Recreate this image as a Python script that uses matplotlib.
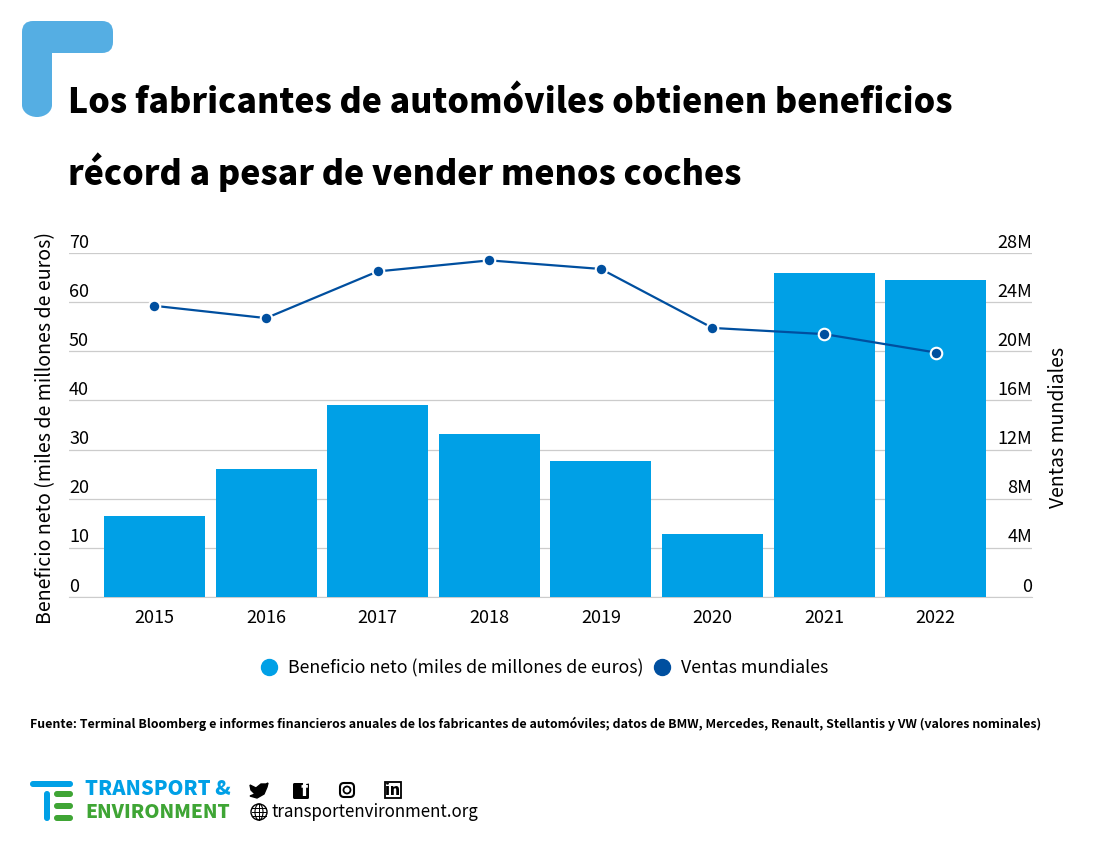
import matplotlib
matplotlib.use("Agg")
import matplotlib.pyplot as plt
from matplotlib.lines import Line2D
from matplotlib.patches import Circle, Ellipse, FancyBboxPatch, Polygon, Rectangle

plt.rcParams['font.family'] = ['Noto Sans CJK JP', 'DejaVu Sans']

years = ['2015', '2016', '2017', '2018', '2019', '2020', '2021', '2022']
beneficio = [16.5, 26, 39, 33.2, 27.7, 12.8, 66, 64.5]
ventas = [23.7, 22.7, 26.5, 27.4, 26.7, 21.9, 21.4, 19.9]
left_ticks = [0, 10, 20, 30, 40, 50, 60, 70]
right_ticks = [0, 4, 8, 12, 16, 20, 24, 28]
right_labels = ['0', '4M', '8M', '12M', '16M', '20M', '24M', '28M']

titulo = ['Los fabricantes de automóviles obtienen beneficios',
          'récord a pesar de vender menos coches']
fuente = ('Fuente: Terminal Bloomberg e informes financieros anuales de los fabricantes '
          'de automóviles; datos de BMW, Mercedes, Renault, Stellantis y VW (valores nominales)')

BLUE = '#00a0e6'
DARK = '#004f9f'
GRID = '#cccccc'
CORNER = '#55aee3'
W, H = 1100, 842

fig = plt.figure(figsize=(W / 100, H / 100), dpi=100, facecolor='white')

# plot area in pixels: x 69-1032, y 253-597
ax = fig.add_axes([69 / W, 1 - 597 / H, (1032 - 69) / W, (597 - 253) / H])
x = list(range(len(years)))
ax.bar(x, beneficio, width=0.905, color=BLUE, zorder=3)
ax.set_xlim(-0.766, 7.863)
ax.set_ylim(0, 70)
ax.set_xticks(x)
ax.set_xticklabels(years, fontsize=13)
ax.set_yticks(left_ticks)
ax.set_yticklabels([])
ax.tick_params(length=0, pad=8.5)
ax.grid(axis='y', color=GRID, lw=0.9, zorder=0)
ax.set_axisbelow(True)
for s in ['top', 'left', 'right']:
    ax.spines[s].set_visible(False)
ax.spines['bottom'].set_color(GRID)
for v in left_ticks:
    ax.annotate(str(v), (0, v), xycoords=('axes fraction', 'data'), xytext=(0, 7.5),
                textcoords='offset points', ha='left', va='center', fontsize=13)

ax2 = ax.twinx()
ax2.set_ylim(0, 28)
ax2.plot(x, ventas, color=DARK, lw=1.6, marker='o', ms=8.3, mfc=DARK, mec='white', mew=1.5, zorder=5)
ax2.set_yticks(right_ticks)
ax2.set_yticklabels([])
ax2.tick_params(length=0)
for s in ax2.spines.values():
    s.set_visible(False)
for v, lab in zip(right_ticks, right_labels):
    ax2.annotate(lab, (1, v), xycoords=('axes fraction', 'data'), xytext=(0, 7.5),
                 textcoords='offset points', ha='right', va='center', fontsize=13)

# everything else is placed in pixel coordinates
ov = fig.add_axes([0, 0, 1, 1], zorder=-1)
ov.set_xlim(0, W)
ov.set_ylim(H, 0)
ov.axis('off')

ov.text(46, 428, 'Beneficio neto (miles de millones de euros)', rotation=90, ha='center', va='center', fontsize=14.1)
ov.text(1058, 427, 'Ventas mundiales', rotation=90, ha='center', va='center', fontsize=14)

ov.text(68, 113, titulo[0], fontsize=24.4, fontweight='black', va='baseline')
ov.text(68, 185, titulo[1], fontsize=24.4, fontweight='black', va='baseline')

# corner shape
ov.add_patch(FancyBboxPatch((22, 21), 91, 32, boxstyle='round,pad=0,rounding_size=11', fc=CORNER, ec='none'))
ov.add_patch(Rectangle((22, 35), 30, 70, fc=CORNER, ec='none'))
ov.add_patch(Ellipse((37, 105), 30, 24, fc=CORNER, ec='none'))

fig.legend(handles=[Line2D([], [], ls='', marker='o', ms=11.5, color=BLUE, label='Beneficio neto (miles de millones de euros)'),
                    Line2D([], [], ls='', marker='o', ms=11.5, color=DARK, label='Ventas mundiales')],
           loc='center', bbox_to_anchor=(544 / W, 1 - 668 / H), ncol=2, frameon=False, fontsize=12.85,
           handlelength=1, handletextpad=0.57, columnspacing=0.5)

ov.text(30, 724, fuente, fontsize=8.95, fontweight='bold', va='center')

# T&E logo
G = '#3fa535'
ov.add_patch(FancyBboxPatch((30, 781), 43, 6, boxstyle='round,pad=0,rounding_size=3', fc=BLUE, ec='none'))
ov.add_patch(FancyBboxPatch((44, 791), 6, 30, boxstyle='round,pad=0,rounding_size=3', fc=BLUE, ec='none'))
for yy in [791, 803, 815]:
    ov.add_patch(FancyBboxPatch((54, yy), 19, 6, boxstyle='round,pad=0,rounding_size=3', fc=G, ec='none'))
ov.text(85, 789, 'TRANSPORT &', color=BLUE, fontsize=14.5, fontweight='black', va='center')
ov.text(85, 813, 'ENVIRONMENT', color=G, fontsize=13.8, fontweight='black', va='center')

# social icons
ov.add_patch(Polygon([(250, 785), (256, 788), (261, 784), (266, 784), (268, 783), (267, 787), (264, 794), (257, 798), (250, 796), (255, 794), (251, 790)], fc='black', ec='black'))
ov.add_patch(FancyBboxPatch((293, 783), 16, 16, boxstyle='round,pad=0,rounding_size=1.5', fc='black', ec='none'))
ov.text(304, 791, 'f', color='white', fontsize=13, fontweight='black', ha='center', va='center')
ov.add_patch(FancyBboxPatch((340, 783), 14, 14, boxstyle='round,pad=0,rounding_size=4', fc='none', ec='black', lw=1.5))
ov.add_patch(Circle((347, 790), 3.5, fc='none', ec='black', lw=1.3))
ov.add_patch(Rectangle((385, 782), 16, 16, fc='none', ec='black', lw=1.3))
ov.text(393, 790.5, 'in', color='black', fontsize=11, fontweight='black', ha='center', va='center')
ov.add_patch(Circle((259, 812), 8, fc='none', ec='black', lw=1))
ov.add_patch(Ellipse((259, 812), 8, 16, fc='none', ec='black', lw=0.8))
for yy in [808, 812, 816]:
    ov.plot([252, 266], [yy, yy], color='black', lw=0.7)
ov.plot([259, 259], [804, 820], color='black', lw=0.7)
ov.text(271, 812, 'transportenvironment.org', fontsize=12.2, va='center')
ov.set_xlim(0, W)
ov.set_ylim(H, 0)

fig.savefig('out.png', dpi=100, facecolor='white')
